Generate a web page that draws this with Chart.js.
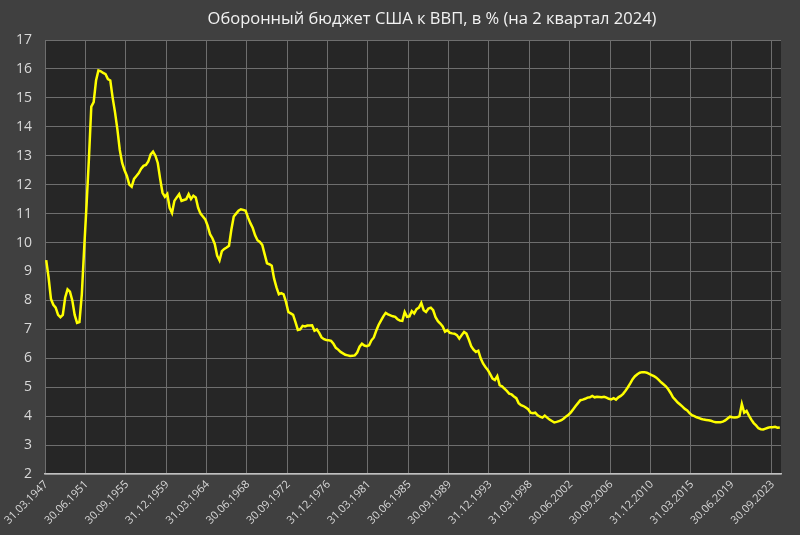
<!DOCTYPE html>
<html>
<head>
<meta charset="utf-8">
<script src="https://cdn.jsdelivr.net/npm/chart.js@4"></script>
<style>
  html,body{margin:0;padding:0;background:#404040;}
  #wrap{width:800px;height:535px;}
</style>
</head>
<body>
<div id="wrap"><canvas id="chart" width="800" height="535"></canvas></div>
<script>
// quarterly values, % of GDP, 31.03.1947 .. 30.06.2024
const v1947_1958 = [9.39,8.8,8.05,7.85,7.75,7.5,7.42,7.5,8.1,8.38,8.3,8.0,7.5,7.22,7.25,8.2,
  9.8,11.3,12.9,14.7,14.85,15.6,15.95,15.92,15.86,15.82,15.65,15.6,15.0,14.5,13.9,13.2,
  12.75,12.5,12.3,12.0,11.93,12.2,12.3,12.4,12.55,12.65,12.68,12.8,13.05,13.14,13.0,12.75];
const v1959_1970 = [12.2,11.72,11.58,11.68,11.2,11.02,11.44,11.56,11.67,11.44,11.47,11.5,
  11.67,11.5,11.62,11.56,11.2,11.0,10.9,10.8,10.58,10.29,10.15,9.95,9.55,9.38,9.7,9.78,
  9.83,9.89,10.45,10.9,11.0,11.1,11.15,11.13,11.1,10.87,10.67,10.5,10.25,10.08,10.02,9.92,
  9.6,9.28,9.25,9.2];
const v1971_1982 = [8.75,8.45,8.21,8.25,8.21,7.95,7.6,7.55,7.5,7.25,6.98,7.0,7.12,7.1,7.13,7.13,
  7.14,6.95,7.0,6.88,6.72,6.66,6.63,6.62,6.6,6.5,6.36,6.3,6.22,6.17,6.12,6.1,
  6.08,6.09,6.1,6.2,6.4,6.5,6.44,6.42,6.45,6.62,6.72,6.95,7.15,7.3,7.45,7.57];
const v1983_1994 = [7.52,7.48,7.45,7.43,7.35,7.3,7.29,7.6,7.43,7.45,7.63,7.55,7.7,7.75,7.91,7.66,
  7.6,7.72,7.75,7.66,7.42,7.28,7.2,7.1,6.92,6.97,6.88,6.86,6.85,6.8,6.68,6.8,
  6.91,6.85,6.65,6.42,6.3,6.22,6.26,6.0,5.82,5.7,5.6,5.45,5.3,5.25,5.38,5.07];
const v1995_2006 = [5.03,4.95,4.87,4.78,4.75,4.68,4.62,4.45,4.38,4.35,4.3,4.24,4.12,4.1,4.12,4.03,
  3.98,3.95,4.02,3.95,3.88,3.83,3.78,3.8,3.83,3.86,3.92,3.99,4.05,4.13,4.24,4.35,
  4.45,4.55,4.57,4.6,4.64,4.65,4.7,4.65,4.67,4.66,4.65,4.67,4.64,4.6,4.58,4.62];
const v2007_2018 = [4.57,4.65,4.7,4.77,4.88,5.0,5.13,5.28,5.38,5.45,5.5,5.52,5.52,5.5,5.46,5.42,
  5.38,5.33,5.25,5.17,5.1,5.03,4.93,4.8,4.65,4.56,4.47,4.4,4.33,4.25,4.2,4.1,
  4.03,4.0,3.96,3.93,3.9,3.88,3.87,3.86,3.84,3.81,3.79,3.79,3.79,3.81,3.85,3.92];
const v2019_2024 = [3.98,3.96,3.95,3.96,4.0,4.42,4.12,4.18,4.02,3.88,3.76,3.68,3.58,3.55,3.54,3.57,
  3.6,3.62,3.62,3.63,3.6,3.61];

const values = [].concat(v1947_1958, v1959_1970, v1971_1982, v1983_1994, v1995_2006, v2007_2018, v2019_2024);

const qEnds = ["31.03","30.06","30.09","31.12"];
const categories = [];
for (let y = 1947; y <= 2024; y++) {
  for (let q = 0; q < 4; q++) {
    if (y === 2024 && q > 1) break;
    categories.push(qEnds[q] + "." + y);
  }
}

const tickLabels = ["31.03.1947","30.06.1951","30.09.1955","31.12.1959","31.03.1964","30.06.1968",
  "30.09.1972","31.12.1976","31.03.1981","30.06.1985","30.09.1989","31.12.1993","31.03.1998",
  "30.06.2002","30.09.2006","31.12.2010","31.03.2015","30.06.2019","30.09.2023"];

const TITLE = "Оборонный бюджет США к ВВП, в % (на 2 квартал 2024)";
const TEXT = "#d9d9d9", GRID = "#6e6e6e";

const plotBg = {
  id: "plotBg",
  beforeDraw(chart){
    const { ctx, chartArea: a } = chart;
    ctx.save();
    ctx.fillStyle = "#262626";
    ctx.fillRect(a.left, a.top, a.right - a.left, a.bottom - a.top);
    ctx.restore();
  },
  afterDraw(chart){
    const ctx = chart.ctx;
    ctx.save();
    ctx.fillStyle = "#f2f2f2";
    ctx.font = "16.5px 'Open Sans'";
    ctx.textAlign = "center"; ctx.textBaseline = "middle";
    ctx.fillText(TITLE, 432, 19);
    ctx.restore();
  }
};

const isTick = i => i < categories.length && tickLabels.includes(categories[i]);

new Chart(document.getElementById("chart"), {
  type: "line",
  data: { labels: categories, datasets: [{ data: values, borderColor: "#ffff00", borderWidth: 2.5, pointRadius: 0, tension: 0, fill: false }] },
  options: {
    responsive: false, animation: false,
    layout: { padding: { left: 0, right: 19, top: 40, bottom: 0 } },
    plugins: { legend: { display: false }, tooltip: { enabled: false }, title: { display: false } },
    scales: {
      x: {
        offset: true,
        grid: { offset: true, drawTicks: false, color: c => (isTick(c.index) ? GRID : "transparent"), lineWidth: 1 },
        border: { color: "#bfbfbf", width: 1.5 },
        ticks: { autoSkip: false, minRotation: 45, maxRotation: 45, padding: 4, color: TEXT,
          font: { family: "Open Sans", size: 11 },
          callback: (val, i) => isTick(i) ? categories[i] : "" },
        afterFit: s => { s.height = 61; }
      },
      y: {
        min: 2, max: 17,
        grid: { color: GRID, drawTicks: false, lineWidth: 1 },
        border: { display: false },
        ticks: { stepSize: 1, padding: 13, color: TEXT, font: { family: "Open Sans", size: 14 } },
        afterFit: s => { s.width = 45; }
      }
    }
  },
  plugins: [plotBg]
});
</script>
</body>
</html>
